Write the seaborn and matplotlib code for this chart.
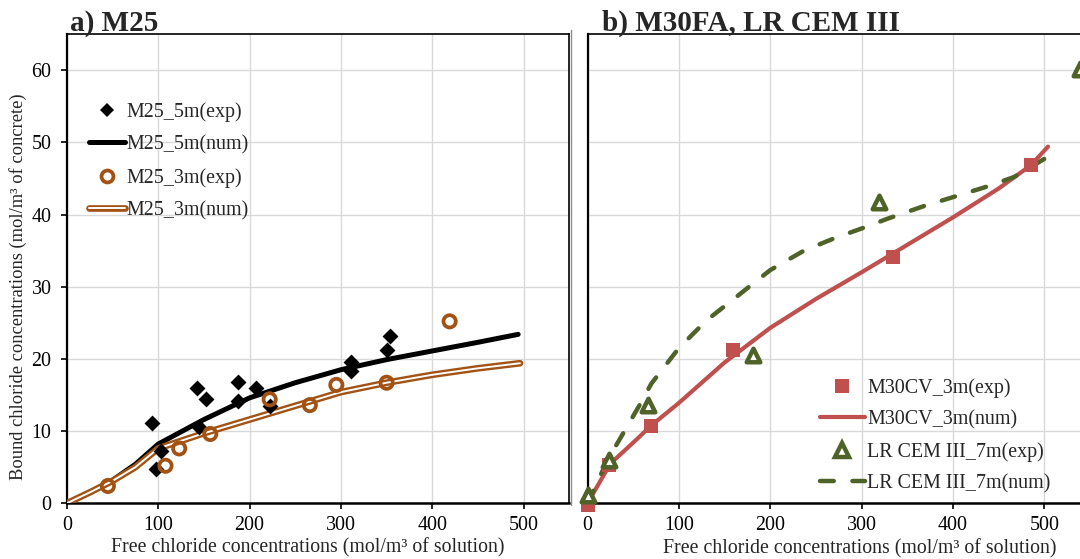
import matplotlib
matplotlib.use("Agg")
import matplotlib.pyplot as plt
import matplotlib.patheffects as pe
from matplotlib.lines import Line2D
import seaborn as sns

# ---- a) M25 -------------------------------------------------------------
m25_5m_exp_x = [93, 98, 103, 142, 145, 152, 187, 187, 207, 222, 311, 311, 350, 354]
m25_5m_exp_y = [11.1, 4.8, 7.2, 16.0, 10.5, 14.4, 16.8, 14.1, 16.0, 13.5, 19.6, 18.3, 21.2, 23.2]

m25_5m_num_x = [0, 25, 50, 75, 100, 150, 200, 250, 300, 350, 400, 450, 494]
m25_5m_num_y = [0, 1.5, 3.2, 5.4, 8.2, 11.6, 14.6, 16.7, 18.5, 19.9, 21.1, 22.3, 23.4]

m25_3m_exp_x = [45, 108, 123, 157, 222, 266, 295, 350, 419]
m25_3m_exp_y = [2.4, 5.2, 7.6, 9.6, 14.4, 13.6, 16.4, 16.7, 25.2]

m25_3m_num_x = [0, 25, 50, 75, 100, 150, 200, 250, 300, 350, 400, 450, 496]
m25_3m_num_y = [0, 1.5, 3.1, 5.0, 7.6, 9.7, 11.6, 13.5, 15.4, 16.7, 17.8, 18.7, 19.4]

# ---- b) M30FA, LR CEM III ----------------------------------------------
m30cv_exp_x = [0, 23, 70, 159, 334, 485]
m30cv_exp_y = [-0.3, 5.3, 10.7, 21.2, 34.1, 46.8]

m30cv_num_x = [0, 25, 50, 70, 100, 150, 200, 250, 300, 350, 400, 450, 485, 504]
m30cv_num_y = [0, 5.5, 8.4, 10.8, 13.9, 19.5, 24.3, 28.3, 32.0, 35.8, 39.6, 43.6, 46.8, 49.4]

lrcem_exp_x = [0, 23, 66, 181, 319, 539]
lrcem_exp_y = [1.2, 6.0, 13.6, 20.6, 41.7, 60.2]

lrcem_num_x = [0, 22, 40, 57, 70, 100, 130, 165, 200, 237, 270, 303, 328, 369, 405, 438, 467, 500]
lrcem_num_y = [0, 6.0, 9.9, 13.6, 16.6, 21.5, 25.3, 28.8, 32.3, 35.0, 36.7, 38.2, 39.4, 41.2, 42.6, 43.9, 45.2, 47.7]

x_ticks = [0, 100, 200, 300, 400, 500]
y_ticks = [0, 10, 20, 30, 40, 50, 60]

xlabel = "Free chloride concentrations (mol/m³ of solution)"
ylabel = "Bound chloride concentrations (mol/m³ of concrete)"

BLACK = "black"
BROWN = "#A25214"
RED = "#C0504D"
GREEN = "#4F6228"
GRID = "#D9D9D9"
DASH = (0, (3.1, 4.2))

sns.set_style("white")
plt.rcParams["font.family"] = ["Liberation Serif", "DejaVu Serif"]
plt.rcParams["axes.unicode_minus"] = False

fig = plt.figure(figsize=(10.8, 5.59), dpi=100)
W, H = 1080.0, 559.0
px_per_unit = 0.9137
y0_px, y1_px = 503.3, 34.0
bottom = (H - y0_px) / H
height = (y0_px - y1_px) / H
title_y = 1 + (y1_px - 30.5) / (y0_px - y1_px)

ax1 = fig.add_axes([66.8 / W, bottom, 550 * px_per_unit / W, height])
ax2 = fig.add_axes([587.5 / W, bottom, 600 * px_per_unit / W, height])


def style_axes(ax, xmax, show_y):
    ax.set_xlim(0, xmax)
    ax.set_ylim(0, 65)
    ax.set_xticks(x_ticks)
    ax.set_yticks(y_ticks)
    ax.grid(True, color=GRID, linewidth=1.0)
    ax.set_axisbelow(True)
    for s in ax.spines.values():
        s.set_visible(True)
        s.set_color("black")
        s.set_linewidth(1.2)
    ax.spines["bottom"].set_linewidth(1.8)
    ax.spines["left"].set_linewidth(1.6)
    ax.tick_params(axis="x", direction="out", length=4.5, width=1.2,
                   pad=5, labelsize=14.4, colors="black", bottom=True)
    if show_y:
        ax.tick_params(axis="y", direction="out", length=4.5, width=1.2,
                       pad=6.5, labelsize=14.4, colors="black", left=True)
    else:
        ax.tick_params(axis="y", left=False, labelleft=False)
    ax.set_xlabel("")
    ax.set_ylabel("")


# ---- panel a -------------------------------------------------------------
double_line = [pe.Stroke(linewidth=4.8, foreground=BROWN), pe.Normal()]

sns.lineplot(x=m25_5m_num_x, y=m25_5m_num_y, ax=ax1, color=BLACK,
             linewidth=3.6, estimator=None, solid_capstyle="round", zorder=3)
sns.lineplot(x=m25_3m_num_x, y=m25_3m_num_y, ax=ax1, color="white",
             linewidth=1.4, estimator=None, path_effects=double_line, zorder=3)
sns.scatterplot(x=m25_5m_exp_x, y=m25_5m_exp_y, ax=ax1, marker="D", s=66,
                color=BLACK, linewidth=0, zorder=4)
sns.scatterplot(x=m25_3m_exp_x, y=m25_3m_exp_y, ax=ax1, marker="o", s=78,
                facecolor="none", edgecolor=BROWN, linewidth=2.7, zorder=5)
style_axes(ax1, 550, True)

handles_a = [
    Line2D([], [], linestyle="none", marker="D", markersize=7.4,
           color=BLACK, markeredgewidth=0),
    Line2D([], [], color=BLACK, linewidth=3.6, solid_capstyle="round"),
    Line2D([], [], linestyle="none", marker="o", markersize=8.6,
           markerfacecolor="none", markeredgecolor=BROWN, markeredgewidth=2.7),
    Line2D([], [], color="white", linewidth=1.4, path_effects=double_line),
]
labels_a = ["M25_5m(exp)", "M25_5m(num)", "M25_3m(exp)", "M25_3m(num)"]
ax1.legend(handles_a, labels_a, loc="upper left", bbox_to_anchor=(0.045, 0.855),
           frameon=False, fontsize=14.4, handlelength=1.8, handletextpad=0.05,
           labelspacing=0.67, borderpad=0, borderaxespad=0)

ax1.text(0.007, title_y, "a) M25", transform=ax1.transAxes, fontsize=21,
         fontweight="bold", ha="left", va="baseline")

# ---- panel b -------------------------------------------------------------
sns.lineplot(x=m30cv_num_x, y=m30cv_num_y, ax=ax2, color=RED,
             linewidth=3.0, estimator=None, solid_capstyle="round", zorder=3)
sns.lineplot(x=lrcem_num_x, y=lrcem_num_y, ax=ax2, color=GREEN,
             linewidth=3.2, estimator=None, linestyle=DASH,
             dash_capstyle="round", zorder=3)
sns.scatterplot(x=m30cv_exp_x, y=m30cv_exp_y, ax=ax2, marker="s", s=95,
                color=RED, linewidth=0, zorder=4, clip_on=False)
sns.scatterplot(x=lrcem_exp_x, y=lrcem_exp_y, ax=ax2, marker="^", s=95,
                facecolor="white", edgecolor=GREEN, linewidth=3.2, zorder=5,
                clip_on=False)
style_axes(ax2, 600, False)

handles_b = [
    Line2D([], [], linestyle="none", marker="s", markersize=9.5,
           color=RED, markeredgewidth=0),
    Line2D([], [], color=RED, linewidth=3.0, solid_capstyle="round"),
    Line2D([], [], linestyle="none", marker="^", markersize=9.5,
           markerfacecolor="white", markeredgecolor=GREEN, markeredgewidth=3.2),
    Line2D([], [], color=GREEN, linewidth=3.2, linestyle=DASH,
           dash_capstyle="round"),
]
labels_b = ["M30CV_3m(exp)", "M30CV_3m(num)", "LR CEM III_7m(exp)", "LR CEM III_7m(num)"]
ax2.legend(handles_b, labels_b, loc="upper left", bbox_to_anchor=(0.424, 0.267),
           frameon=False, fontsize=14.4, handlelength=2.25, handletextpad=0.1,
           labelspacing=0.62, borderpad=0, borderaxespad=0)

ax2.text(0.026, title_y, "b) M30FA, LR CEM III", transform=ax2.transAxes,
         fontsize=21, fontweight="bold", ha="left", va="baseline")

# ---- axis titles -----------------------------------------------------------
fig.text(307.5 / W, 1 - 548 / H, xlabel, ha="center", va="center", fontsize=14.3)
fig.text(860 / W, 1 - 549 / H, xlabel, ha="center", va="center", fontsize=14.3)
fig.text(18 / W, 1 - 287 / H, ylabel, ha="center", va="center",
         rotation=90, fontsize=13.3)

# thin frame edge between the two panels
fig.add_artist(Line2D([571 / W, 571 / W], [1 - 505 / H, 1 - 30 / H],
                      transform=fig.transFigure, color="#8C8C8C", linewidth=1.0))

fig.savefig("out.png", dpi=100)
